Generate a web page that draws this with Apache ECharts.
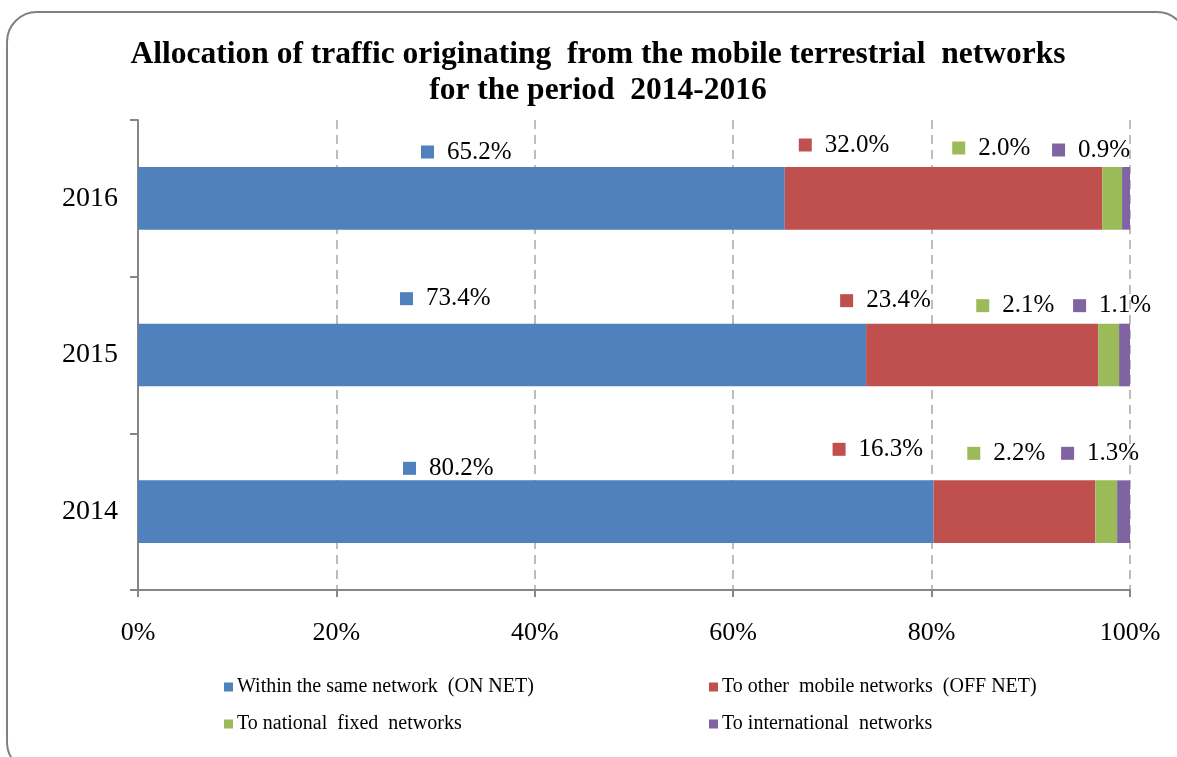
<!DOCTYPE html>
<html>
<head>
<meta charset="utf-8">
<script src="https://cdn.jsdelivr.net/npm/echarts@6/dist/echarts.min.js"></script>
<style>
  html, body { margin: 0; padding: 0; background: #fff; }
  #chart { width: 1177px; height: 757px; }
</style>
</head>
<body>
<div id="chart"></div>
<script>
// Share of mobile-originated traffic by destination, per year (%)
const years = ['2014', '2015', '2016'];
const seriesNames = [
  'Within the same network  (ON NET)',
  'To other  mobile networks  (OFF NET)',
  'To national  fixed  networks',
  'To international  networks'
];
const onNet = [80.2, 73.4, 65.2];
const offNet = [16.3, 23.4, 32.0];
const fixedNet = [2.2, 2.1, 2.0];
const intlNet = [1.3, 1.1, 0.9];
const xTicks = [0, 20, 40, 60, 80, 100];

const colors = ['#4F81BD', '#C0504D', '#9BBB59', '#8064A2'];
const serif = "'Liberation Serif', 'Times New Roman', serif";

// Where each value label sits, relative to its segment's top-left corner [dx, dy]
const labelNudge = [
  [[265, -12], [262, -25], [283, -15]],
  [[-101, -31], [-26, -23], [14, -22]],
  [[-128, -27], [-122, -18], [-150, -19]],
  [[-56, -27], [-46, -18], [-70, -17]]
];

const values = [onNet, offNet, fixedNet, intlNet];

const series = values.map((vals, si) => ({
  name: seriesNames[si],
  type: 'bar',
  stack: 'total',
  barWidth: '40%',
  itemStyle: { color: colors[si] },
  emphasis: { disabled: true },
  data: vals.map((v, i) => ({
    value: v,
    label: {
      show: true,
      position: labelNudge[si][i],
      align: 'left',
      verticalAlign: 'middle',
      formatter: p => '{s|}{v|' + p.value.toFixed(1) + '%}',
      rich: {
        s: { width: 13, height: 13, backgroundColor: colors[si] },
        v: { fontSize: 25, fontFamily: serif, color: '#000', padding: [0, 0, 0, 13] }
      }
    }
  }))
}));

const legendStyle = {
  orient: 'vertical',
  top: 677,
  padding: 0,
  icon: 'rect',
  itemWidth: 9,
  itemHeight: 9,
  itemGap: 17,
  selectedMode: false,
  textStyle: { fontFamily: serif, fontSize: 20, color: '#000', padding: [0, 0, 0, -1] }
};

const chart = echarts.init(document.getElementById('chart'), null, { renderer: 'canvas' });

chart.setOption({
  animation: false,
  backgroundColor: '#fff',
  graphic: [{
    type: 'rect',
    shape: { x: 7, y: 12, width: 1180, height: 760, r: 30 },
    style: { fill: 'none', stroke: '#808080', lineWidth: 2 },
    silent: true
  }],
  title: {
    text: 'Allocation of traffic originating  from the mobile terrestrial  networks\nfor the period  2014-2016',
    left: 598,
    top: 37,
    padding: 0,
    textAlign: 'center',
    textStyle: {
      fontFamily: serif,
      fontWeight: 'bold',
      fontSize: 31.5,
      lineHeight: 36,
      color: '#000'
    }
  },
  grid: { left: 138, right: 47, top: 120, bottom: 167, containLabel: false },
  xAxis: {
    type: 'value',
    min: 0,
    max: 100,
    interval: 20,
    axisLine: { show: true, lineStyle: { color: '#868686', width: 2 } },
    axisTick: { show: true, length: 7, lineStyle: { color: '#868686', width: 2 } },
    axisLabel: {
      margin: 30,
      fontFamily: serif,
      fontSize: 26,
      color: '#000',
      formatter: v => (xTicks.includes(v) ? v + '%' : '')
    },
    splitLine: { show: true, lineStyle: { color: '#BDBDBD', width: 2, type: [9, 6] } }
  },
  yAxis: {
    type: 'category',
    data: years,
    axisLine: { show: true, lineStyle: { color: '#868686', width: 2 } },
    axisTick: { show: true, length: 8, alignWithLabel: false, lineStyle: { color: '#868686', width: 2 } },
    axisLabel: { margin: 20, fontFamily: serif, fontSize: 28, color: '#000' },
    splitLine: { show: false }
  },
  legend: [
    Object.assign({ data: [seriesNames[0], seriesNames[2]], left: 224 }, legendStyle),
    Object.assign({ data: [seriesNames[1], seriesNames[3]], left: 709 }, legendStyle)
  ],
  series: series
});
</script>
</body>
</html>
